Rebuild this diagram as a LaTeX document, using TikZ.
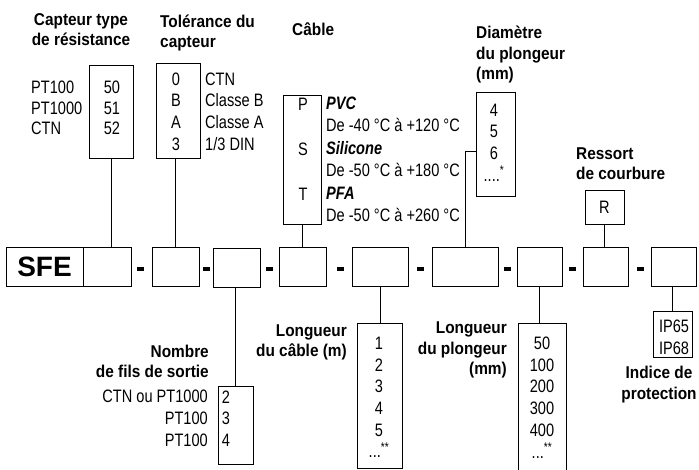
\documentclass[tikz,border=0pt]{standalone}
\usepackage{fontspec}
\setmainfont{Liberation Sans}[FakeStretch=0.81]
\newfontfamily\ttlfont{Liberation Sans}[FakeStretch=0.9]
\newfontfamily\plainfont{Liberation Sans}
\usepackage{tikz}
\usetikzlibrary{positioning}
\tikzstyle{box} = [draw, line width=0.8pt, inner sep=0pt]
\tikzstyle{item} = [font=\fontsize{18}{21.7}\selectfont, align=center, inner sep=0pt]
\tikzstyle{ttl} = [font=\ttlfont\bfseries\fontsize{17.1}{20.5}\selectfont, inner sep=0pt]
\tikzstyle{hyph} = [fill=black, minimum width=7pt, minimum height=3.5pt, inner sep=0pt]
\tikzstyle{link} = [line width=0.8pt]

\begin{document}
\begin{tikzpicture}[x=1pt, y=-1pt]
            \useasboundingbox (0,0) rectangle (699,470);
            \node[box, minimum width=77pt, minimum height=39pt, font=\plainfont\bfseries\fontsize{28}{28}\selectfont] (sfe) at (44.5,266.5) {SFE};
            \node[box, minimum width=48pt, minimum height=39pt] (kres) at (107,266.5) {};
            \node[box, minimum width=47pt, minimum height=39pt] (ktol) at (175.5,266.5) {};
            \node[box, minimum width=47pt, minimum height=39pt] (kfils) at (236.5,267.5) {};
            \node[box, minimum width=47pt, minimum height=39pt] (kcab) at (302.5,266.5) {};
            \node[box, minimum width=56pt, minimum height=39pt] (klen) at (380,266.5) {};
            \node[box, minimum width=66pt, minimum height=39pt] (kdia) at (465,266.5) {};
            \node[box, minimum width=45pt, minimum height=39pt] (kplong) at (539.5,266.5) {};
            \node[box, minimum width=45pt, minimum height=39pt] (kress) at (605.5,266.5) {};
            \node[box, minimum width=45pt, minimum height=39pt] (kip) at (673.5,266.5) {};
            \foreach \x [count=\i] in {140,206,269,340,420,507,572,640}
                \node[hyph] (h\i) at (\x,269) {};

            \node[ttl, align=center] (tres) at (81,29.5) {Capteur type\\de résistance};
            \node[item, align=left, anchor=west, font=\fontsize{18}{20.5}\selectfont] (lres) at (31,108) {PT100\\PT1000\\CTN};
            \node[box, minimum width=44pt, minimum height=93pt] (ores) at (111,111.5) {};
            \node[item, font=\fontsize{18}{20.5}\selectfont] (vres) at (112,108) {50\\51\\52};

            \node[ttl, align=left, anchor=west] (ttol) at (160,33) {Tolérance du\\capteur};
            \node[box, minimum width=44pt, minimum height=95pt] (otol) at (178,110.5) {};
            \node[item] (vtol) at (176,111.5) {0\\B\\A\\3};
            \node[item, align=left, anchor=west] (ltol) at (205,111.5) {CTN\\Classe B\\Classe A\\1/3 DIN};

            \node[ttl, anchor=west] (tcab) at (292,29) {Câble};
            \node[box, minimum width=38pt, minimum height=129pt] (ocab) at (302,159.5) {};
            \node[item, font=\fontsize{18}{22.5}\selectfont] (vcab) at (303,149.5) {P\\[22.5pt]S\\[22.5pt]T};
            \node[item, align=left, anchor=west, font=\fontsize{18}{22.5}\selectfont] (lcab) at (326,159.5) {\textbf{\textit{PVC}}\\De -40 °C à +120 °C\\\textbf{\textit{Silicone}}\\De -50 °C à +180 °C\\\textbf{\textit{PFA}}\\De -50 °C à +260 °C};

            \node[ttl, align=left, anchor=west] (tdia) at (476,55) {Diamètre\\du plongeur\\(mm)};
            \node[box, minimum width=39pt, minimum height=104pt] (odia) at (495.5,144) {};
            \node[item] (vdia) at (494,142.5) {4\\5\\6\\....\textsuperscript{*}};

            \node[ttl, align=left, anchor=west] (tress) at (576,163.5) {Ressort\\de courbure};
            \node[box, minimum width=39pt, minimum height=34pt, font=\fontsize{18}{21.7}\selectfont] (oress) at (604.5,207) {R};

            \node[ttl, align=right, anchor=east] (tfils) at (209,361.5) {Nombre\\de fils de sortie};
            \node[item, align=right, anchor=east] (lfils) at (208,418.5) {CTN ou PT1000\\PT100\\PT100};
            \node[box, minimum width=35pt, minimum height=78pt] (ofils) at (235.5,425) {};
            \node[item] (vfils) at (226,418.5) {2\\3\\4};

            \node[ttl, align=right, anchor=east] (tlen) at (347,342.5) {Longueur\\du câble (m)};
            \node[box, minimum width=45pt, minimum height=145pt] (olen) at (379.5,395.5) {};
            \node[item] (vlen) at (379,397.5) {1\\2\\3\\4\\5\\...\textsuperscript{**}};

            \node[ttl, align=right, anchor=east] (tplong) at (507,350) {Longueur\\du plongeur\\(mm)};
            \node[box, minimum width=48pt, minimum height=160pt] (oplong) at (542,403) {};
            \node[item] (vplong) at (542,397.5) {50\\100\\200\\300\\400\\...\textsuperscript{**}};

            \node[box, minimum width=39pt, minimum height=46pt] (oip) at (672.5,334) {};
            \node[item] (vip) at (674,337.5) {IP65\\IP68};
            \node[ttl, align=center] (tip) at (659,384.5) {Indice de\\protection};

            \draw[link] (ores.south) -- (ores.south |- kres.north);
            \draw[link] (ktol.north) -- (ktol.north |- otol.south);
            \draw[link] (ofils.north) -- (ofils.north |- kfils.south);
            \draw[link] (ocab.south) -- (ocab.south |- kcab.north);
            \draw[link] (klen.south) -- (klen.south |- olen.north);
            \draw[link] (kdia.north) |- ([yshift=-7pt]odia.west);
            \draw[link] (kplong.south) -- (kplong.south |- oplong.north);
            \draw[link] (oress.south) -- (oress.south |- kress.north);
            \draw[link] (oip.north) -- (oip.north |- kip.south);
        \end{tikzpicture}
\end{document}
